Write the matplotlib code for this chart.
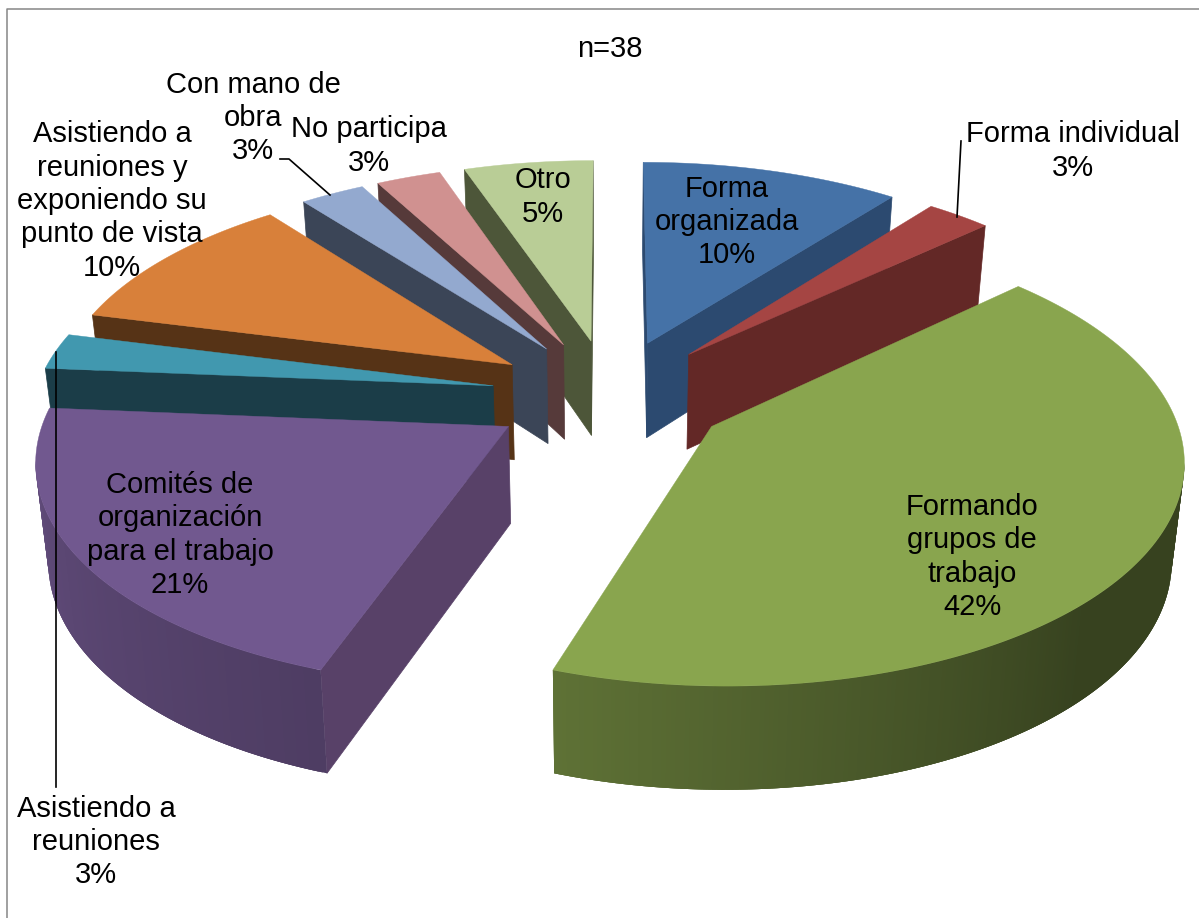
import numpy as np
import matplotlib
matplotlib.use('Agg')
import matplotlib.pyplot as plt
from matplotlib.colors import to_rgb

# Datos del grafico
etiquetas = ['Forma\norganizada', 'Forma individual', 'Formando\ngrupos de\ntrabajo',
             'Comités de\norganización\npara el trabajo', 'Asistiendo a\nreuniones',
             'Asistiendo a\nreuniones y\nexponiendo su\npunto de vista',
             'Con mano de\nobra', 'No participa', 'Otro']
frecuencias = [4, 1, 16, 8, 1, 4, 1, 1, 2]
porcentajes = ['10%', '3%', '42%', '21%', '3%', '10%', '3%', '3%', '5%']

# Posicion del texto de cada etiqueta
pos_x = [727, 1073, 972, 180, 96, 112, 253, 369, 543]
pos_y = [222, 151, 557, 535, 842, 201, 118, 146, 197]

colores = ['#4572A7', '#A54543', '#89A54E', '#71588F', '#4198AF',
           '#D8803A', '#93A9CF', '#D09190', '#B9CD96']
colores_corte = ['#2C4A70', '#632826', '#3A4A1C', '#584168', '#1B3D48',
                 '#563316', '#3B4557', '#563A3A', '#4D5639']

# Parametros de la proyeccion
cx, cy = 610, 395
rx, ry = 458, 217
separacion = 0.26
persp = 0.13
alto = 96
encoge = 0.978


def proyectar(x, y):
    s = 1 / (1 + persp * y)
    px = cx + rx * x * s
    py = cy - ry * y * s
    h = alto * (1 - 0.07 * y)
    return px, py, cx + (px - cx) * encoge, py + h


def area(p):
    p = np.array(p)
    return np.sum(p[:, 0] * np.roll(p[:, 1], -1) - np.roll(p[:, 0], -1) * p[:, 1])


def sombra(t):
    return np.interp(t, [100, 135, 199, 260], [0.40, 0.40, 0.69, 0.85])


fig = plt.figure(figsize=(11.99, 9.18), dpi=100)
ax = fig.add_axes([0, 0, 1, 1])
ax.set_xlim(0, 1199)
ax.set_ylim(918, 0)
ax.axis('off')

total = sum(frecuencias)
fin = np.cumsum(frecuencias) / total * 360
inicio = fin - np.array(frecuencias) / total * 360
medio = (inicio + fin) / 2

# Se dibuja de atras hacia adelante
orden = sorted(range(len(frecuencias)), key=lambda i: -np.cos(np.radians(medio[i])))
for i in orden:
    x0 = separacion * np.sin(np.radians(medio[i]))
    y0 = separacion * np.cos(np.radians(medio[i]))
    t = np.linspace(inicio[i], fin[i], max(int(fin[i] - inicio[i]), 2) * 2 + 1)
    xs = x0 + np.sin(np.radians(t))
    ys = y0 + np.cos(np.radians(t))
    px, py, bx, by = proyectar(xs, ys)
    ax_, ay_, abx, aby = proyectar(x0, y0)

    # caras de corte
    cara_ini = [(ax_, ay_), (px[0], py[0]), (bx[0], by[0]), (abx, aby)]
    cara_fin = [(ax_, ay_), (px[-1], py[-1]), (bx[-1], by[-1]), (abx, aby)]
    if area(cara_ini) < 0:
        ax.fill(*zip(*cara_ini), color=colores_corte[i], lw=0.5)
    if area(cara_fin) > 0:
        ax.fill(*zip(*cara_fin), color=colores_corte[i], lw=0.5)

    # pared exterior, cada tira tapa un poco a la siguiente para evitar rayas
    base = np.array(to_rgb(colores[i]))
    for k in range(len(t) - 1):
        if px[k + 1] < px[k]:
            c = base * sombra((t[k] + t[k + 1]) / 2)
            j = min(k + 3, len(t) - 1)
            ax.fill(np.r_[px[k:j + 1], bx[k:j + 1][::-1]],
                    np.r_[py[k:j + 1], by[k:j + 1][::-1]], color=c, lw=0)

    # cara superior
    ax.fill(np.r_[ax_, px], np.r_[ay_, py], color=colores[i], lw=0.3)

# Marco
ax.plot([6.5, 6.5, 1199], [918, 8.5, 8.5], color='#868686', lw=1.1, clip_on=False)

# Lineas guia
ax.plot([961, 957], [141, 217], color='black', lw=1.2)
ax.plot([280, 289, 330], [159, 159, 195], color='black', lw=1.2)
ax.plot([55.5, 55.5], [352, 787], color='black', lw=1.2)

# Textos
fuente = dict(family='Liberation Sans', fontsize=21, color='black',
              ha='center', va='center', multialignment='center')
ax.text(610, 49, 'n=' + str(total), **fuente)
for i in range(len(etiquetas)):
    ax.text(pos_x[i], pos_y[i], etiquetas[i] + '\n' + porcentajes[i], linespacing=1.24, **fuente)

fig.savefig('out.png', dpi=100, facecolor='white')
